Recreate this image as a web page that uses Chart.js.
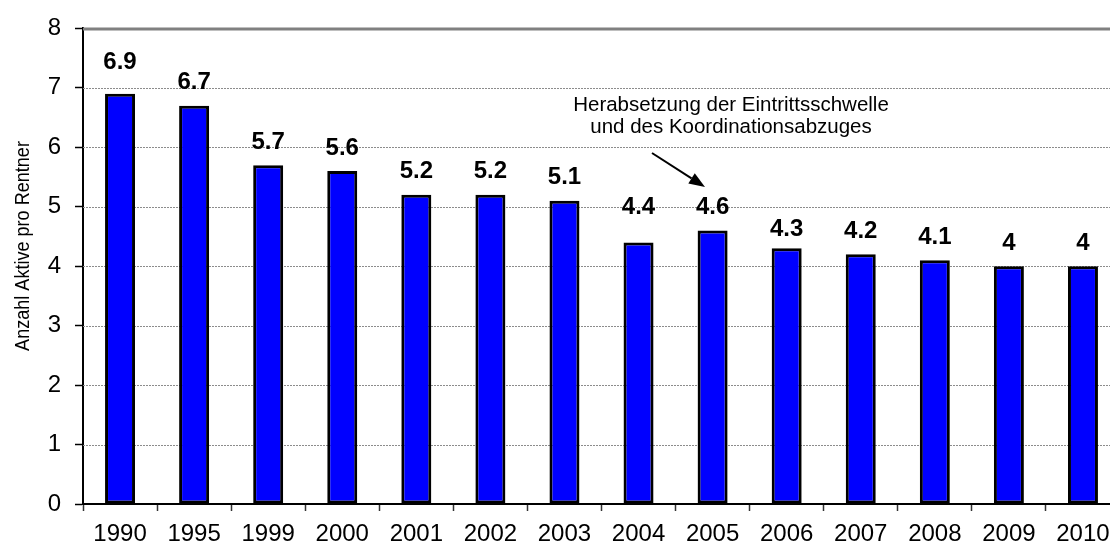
<!DOCTYPE html>
<html>
<head>
<meta charset="utf-8">
<script src="https://cdn.jsdelivr.net/npm/chart.js@4/dist/chart.umd.min.js"></script>
<style>
  html, body { margin: 0; padding: 0; overflow: hidden; background: #fff; }
  #wrap { position: absolute; left: 0; top: 0; width: 1125px; height: 545px; }
</style>
</head>
<body>
<div id="wrap"><canvas id="chart" width="1125" height="545"></canvas></div>
<script>
// data
const years = ["1990", "1995", "1999", "2000", "2001", "2002", "2003", "2004", "2005", "2006", "2007", "2008", "2009", "2010"];
const activePerRetiree = [6.9, 6.7, 5.7, 5.6, 5.2, 5.2, 5.1, 4.4, 4.6, 4.3, 4.2, 4.1, 4, 4];
const yTitle = "Anzahl Aktive pro Rentner";
const noteLines = ["Herabsetzung der Eintrittsschwelle", "und des Koordinationsabzuges"];

const FONT = "'Liberation Sans', Arial, sans-serif";

// dotted grid lines + grey top border, behind the bars
const gridPlugin = {
    id: "grid",
    beforeDatasetsDraw(chart) {
        const ctx = chart.ctx;
        const area = chart.chartArea;
        const y = chart.scales.y;
        ctx.save();
        for (let v = 1; v <= 7; v++) {
            const py = Math.round(y.getPixelForValue(v)) + 0.5;
            ctx.strokeStyle = "#8c8c8c";
            ctx.lineWidth = 1;
            ctx.setLineDash([2, 1]);
            ctx.beginPath();
            ctx.moveTo(area.left, py);
            ctx.lineTo(area.right, py);
            ctx.stroke();
        }
        ctx.setLineDash([]);
        ctx.strokeStyle = "#808080";
        ctx.lineWidth = 3;
        const top = y.getPixelForValue(8);
        ctx.beginPath();
        ctx.moveTo(area.left, top + 0.5);
        ctx.lineTo(area.right, top + 0.5);
        ctx.stroke();
        ctx.restore();
    }
};

// value labels, y title and the arrow note
const labelPlugin = {
    id: "labels",
    afterDatasetsDraw(chart) {
        const ctx = chart.ctx;
        const meta = chart.getDatasetMeta(0);
        ctx.save();
        ctx.fillStyle = "#000";
        ctx.font = "bold 24px " + FONT;
        ctx.textAlign = "center";
        ctx.textBaseline = "alphabetic";
        meta.data.forEach((bar, i) => {
            let gap = 16.5;
            if (i === 0) gap = 25;   // lifted in the original
            if (i === 7) gap = 28;
            if (i === 9) gap = 12;
            ctx.fillText(String(activePerRetiree[i]), bar.x, bar.y - gap);
        });

        // axis title (glyphs a bit wider than tall in the original)
        ctx.font = "21px " + FONT;
        ctx.textBaseline = "middle";
        ctx.save();
        ctx.translate(23, 246);
        ctx.rotate(-Math.PI / 2);
        ctx.scale(0.86, 1);
        ctx.fillText(yTitle, 0, 0);
        ctx.restore();

        // note text
        ctx.font = "20.5px " + FONT;
        ctx.fillText(noteLines[0], 731, 105);
        ctx.fillText(noteLines[1], 731, 127);

        // arrow
        const x1 = 652, y1 = 153, x2 = 705, y2 = 187;
        const ang = Math.atan2(y2 - y1, x2 - x1);
        const head = 16, half = 6;
        const bx = x2 - head * Math.cos(ang), by = y2 - head * Math.sin(ang);
        ctx.strokeStyle = "#000";
        ctx.lineWidth = 2;
        ctx.beginPath();
        ctx.moveTo(x1, y1);
        ctx.lineTo(bx, by);
        ctx.stroke();
        ctx.beginPath();
        ctx.moveTo(x2, y2);
        ctx.lineTo(bx + half * Math.sin(ang), by - half * Math.cos(ang));
        ctx.lineTo(bx - half * Math.sin(ang), by + half * Math.cos(ang));
        ctx.closePath();
        ctx.fill();
        ctx.restore();
    }
};

new Chart(document.getElementById("chart"), {
    type: "bar",
    data: {
        labels: years,
        datasets: [{
            data: activePerRetiree,
            backgroundColor: "#0000ff",
            borderColor: "#000",
            borderWidth: 3,
            borderSkipped: false,
            barPercentage: 0.405,
            categoryPercentage: 1
        }]
    },
    options: {
        responsive: false,
        animation: false,
        layout: { padding: { top: 22, right: 5, left: 0, bottom: 0 } },
        plugins: {
            legend: { display: false },
            tooltip: { enabled: false }
        },
        scales: {
            y: {
                min: 0,
                max: 8,
                afterFit(scale) { scale.width = 83; },
                ticks: { stepSize: 1, color: "#000", padding: 14, font: { family: FONT, size: 24 } },
                grid: { drawOnChartArea: false, tickLength: 8, tickColor: "#000", tickWidth: 1.5 },
                border: { color: "#000", width: 2 }
            },
            x: {
                afterFit(scale) { scale.height = 41; },
                ticks: { color: "#000", padding: 9, maxRotation: 0, autoSkip: false, font: { family: FONT, size: 24 } },
                grid: { offset: true, drawOnChartArea: false, tickLength: 7, tickColor: "#333", tickWidth: 1.5 },
                border: { color: "#000", width: 2 }
            }
        }
    },
    plugins: [gridPlugin, labelPlugin]
});
</script>
</body>
</html>
